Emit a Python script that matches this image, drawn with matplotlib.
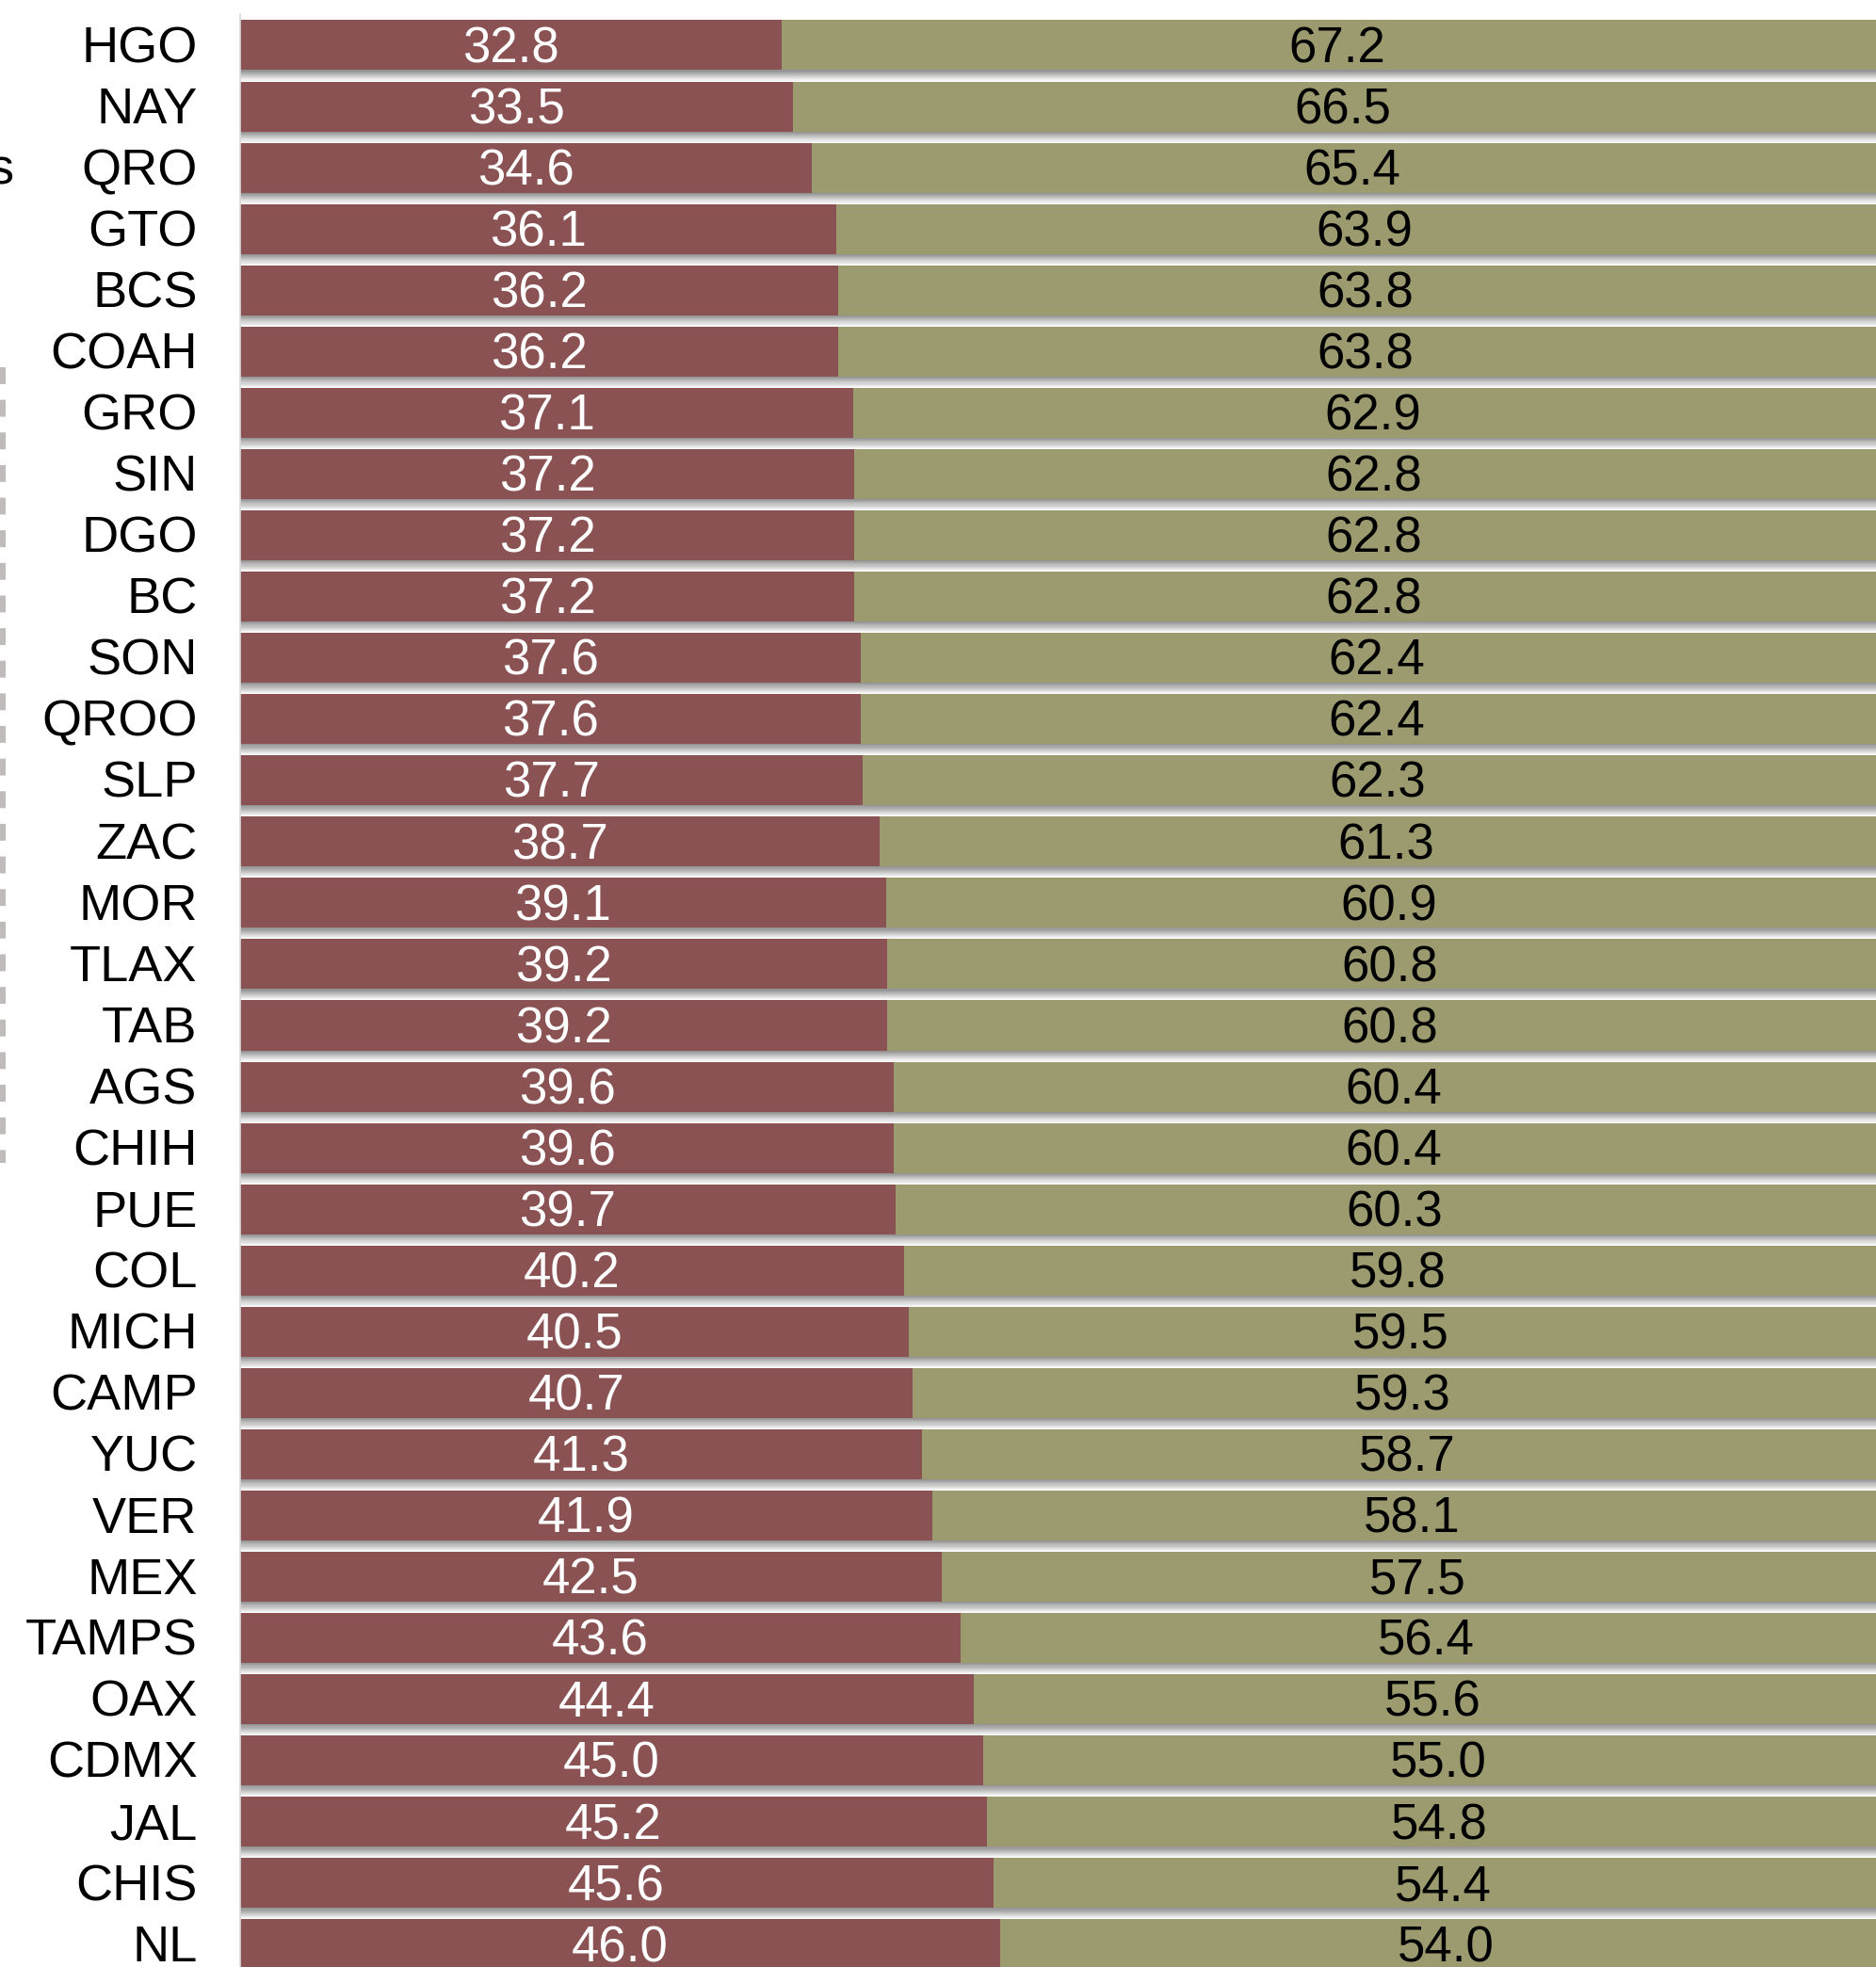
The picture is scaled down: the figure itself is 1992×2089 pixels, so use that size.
import matplotlib.pyplot as plt
import matplotlib
import numpy as np

matplotlib.rcParams['font.family'] = ['Liberation Sans', 'DejaVu Sans']

# datos por entidad (porcentajes)
states = ['HGO', 'NAY', 'QRO', 'GTO', 'BCS', 'COAH', 'GRO', 'SIN', 'DGO', 'BC',
          'SON', 'QROO', 'SLP', 'ZAC', 'MOR', 'TLAX', 'TAB', 'AGS', 'CHIH', 'PUE',
          'COL', 'MICH', 'CAMP', 'YUC', 'VER', 'MEX', 'TAMPS', 'OAX', 'CDMX', 'JAL',
          'CHIS', 'NL']
part_a = [32.8, 33.5, 34.6, 36.1, 36.2, 36.2, 37.1, 37.2, 37.2, 37.2,
          37.6, 37.6, 37.7, 38.7, 39.1, 39.2, 39.2, 39.6, 39.6, 39.7,
          40.2, 40.5, 40.7, 41.3, 41.9, 42.5, 43.6, 44.4, 45.0, 45.2,
          45.6, 46.0]
part_b = [67.2, 66.5, 65.4, 63.9, 63.8, 63.8, 62.9, 62.8, 62.8, 62.8,
          62.4, 62.4, 62.3, 61.3, 60.9, 60.8, 60.8, 60.4, 60.4, 60.3,
          59.8, 59.5, 59.3, 58.7, 58.1, 57.5, 56.4, 55.6, 55.0, 54.8,
          54.4, 54.0]

COLOR_A = '#8B5254'
COLOR_B = '#9C9B70'

W, H = 1992, 2089
fig = plt.figure(figsize=(W / 100, H / 100), dpi=100)

left_px = 254.5
top_px = 15
ax = fig.add_axes([left_px / W, 0, (W - left_px) / W, (H - top_px) / H])

y = np.arange(len(states))
bar_h = 0.815

# sombra bajo cada barra
n_steps = 10
shadow_h = 0.17
for k in range(n_steps):
    g = 0.58 + 0.37 * k / (n_steps - 1)
    ax.barh(y + bar_h / 2 + (k + 0.5) * shadow_h / n_steps,
            [a + b for a, b in zip(part_a, part_b)],
            height=shadow_h / n_steps, color=(g, g, g), zorder=1, linewidth=0)

ax.barh(y, part_a, height=bar_h, color=COLOR_A, zorder=2, linewidth=0)
ax.barh(y, part_b, left=part_a, height=bar_h, color=COLOR_B, zorder=2, linewidth=0)

for i, (a, b) in enumerate(zip(part_a, part_b)):
    ax.text(a / 2, i + 0.28, f'{a:.1f}', ha='center', va='baseline',
            color='white', fontsize=38, zorder=3)
    ax.text(a + b / 2, i + 0.28, f'{b:.1f}', ha='center', va='baseline',
            color='black', fontsize=38, zorder=3)
    ax.text(-2.56, i + 0.28, states[i], ha='right', va='baseline',
            color='black', fontsize=39, clip_on=False)

ax.set_xlim(0, (W - left_px) / 17.55)
ax.set_ylim(31.37, -0.507)
ax.set_xticks([])
ax.set_yticks([])
for s in ['top', 'right', 'bottom']:
    ax.spines[s].set_visible(False)
ax.spines['left'].set_color('#D9D9D9')
ax.spines['left'].set_linewidth(1.2)

# restos del panel vecino (recortado)
fig.text(14.5 / W, 1 - 195 / H, 's', ha='right', va='baseline', fontsize=39)
fig.add_artist(plt.Line2D([3 / W, 3 / W], [1 - 390 / H, 1 - 1235 / H],
                          color='#C0BBBB', linewidth=4.3, linestyle=(0, (3, 2.8))))

plt.savefig('out.png', dpi=100)
